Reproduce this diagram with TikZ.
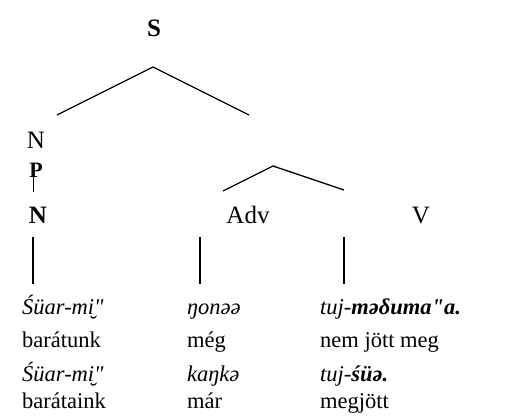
\documentclass[tikz,border=0pt]{standalone}
\usepackage{fontspec}
\setmainfont{Liberation Serif}
\begin{document}
\begin{tikzpicture}[x=1pt,y=-1pt,
  lab/.style={inner sep=0pt,anchor=base,font=\fontsize{25}{29}\selectfont},
  gl/.style={inner sep=0pt,anchor=base west,font=\fontsize{22.5}{26}\selectfont},
  br/.style={line width=1.3pt}]
\useasboundingbox (0,0) rectangle (516,415);

% tree labels
\node[lab] (S) at (154,36) {\textbf{S}};
\node[lab] (NP) at (36,148) {N};
\node[lab,font=\fontsize{22}{26}\selectfont] (P) at (36,177) {\textbf{P}};
\node[lab] (N) at (38,223) {\textbf{N}};
\node[lab] (Adv) at (248,223) {Adv};
\node[lab] (V) at (421,223) {V};

% branch points
\coordinate (s0) at (153,67);
\coordinate (sl) at (57,115);
\coordinate (sr) at (249,115);
\coordinate (v0) at (273,166);
\coordinate (vl) at (223,191);
\coordinate (vr) at (344,190);
\coordinate (pt) at (33.5,174);
\coordinate (pb) at (33.5,192);
\coordinate (n1) at (33,237);
\coordinate (n2) at (33,284);
\coordinate (a1) at (200,237);
\coordinate (a2) at (200,284);
\coordinate (w1) at (344,237);
\coordinate (w2) at (344,284);

\draw[br] (sl) -- (s0) -- (sr);
\draw[br] (vl) -- (v0) -- (vr);
\draw[line width=1.8pt] (pt) -- (pb);
\draw[br] (n1) -- (n2);
\draw[br] (a1) -- (a2);
\draw[br] (w1) -- (w2);

% example sentences with glosses
\node[gl] (r1a) at (22,314) {\itshape Śüar-mi̮\textquotedbl};
\node[gl] (r1b) at (187,314) {\itshape ŋonəə};
\node[gl] (r1c) at (320,314) {\itshape tuj-\textbf{məδuma\textquotedbl a.}};
\node[gl] (r2a) at (22,347) {barátunk};
\node[gl] (r2b) at (187,347) {még};
\node[gl] (r2c) at (320,347) {nem jött meg};
\node[gl] (r3a) at (22,381) {\itshape Śüar-mi̮\textquotedbl};
\node[gl] (r3b) at (187,381) {\itshape kaŋkə};
\node[gl] (r3c) at (320,381) {\itshape tuj-\textbf{śüə.}};
\node[gl] (r4a) at (22,408) {barátaink};
\node[gl] (r4b) at (187,408) {már};
\node[gl] (r4c) at (320,408) {megjött};
\end{tikzpicture}
\end{document}
